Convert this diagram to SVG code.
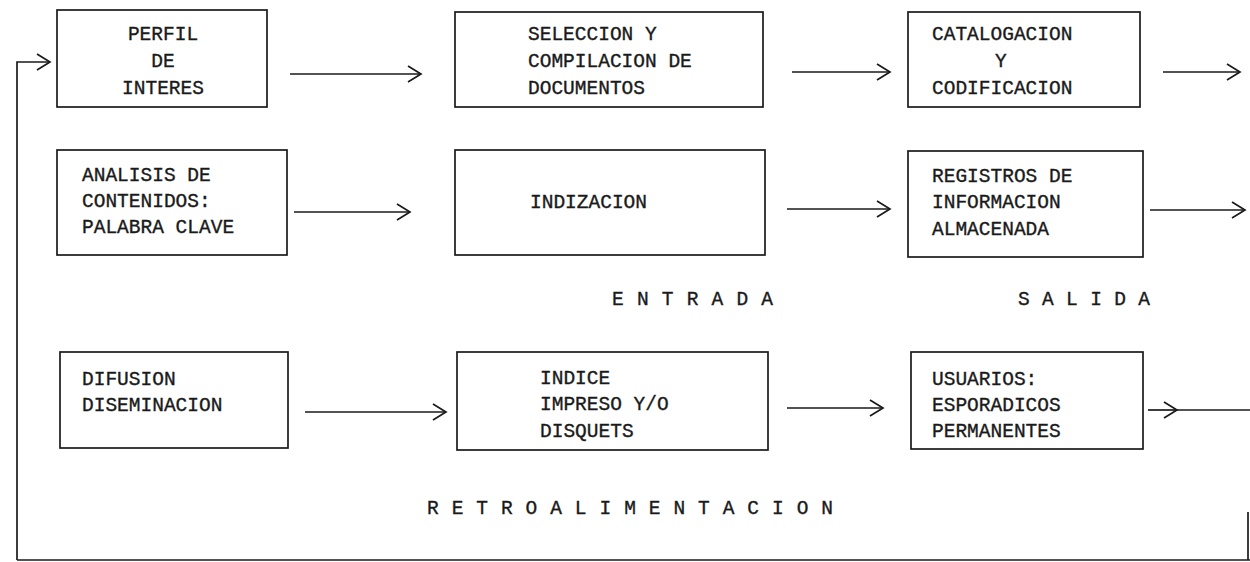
<svg xmlns="http://www.w3.org/2000/svg" width="1250" height="562" viewBox="0 0 1250 562">
  <style>
    .box { fill: none; stroke: #1a1a1a; stroke-width: 1.7; }
    .t { font-family: "Liberation Mono", "Courier New", monospace; font-size: 19.5px; fill: #1a1a1a; stroke: #1a1a1a; stroke-width: 0.35; }
    .c { fill: none; stroke: #1a1a1a; stroke-width: 1.7; }
  </style>
  <defs>
    <marker id="chev" markerUnits="userSpaceOnUse" markerWidth="18" markerHeight="22" refX="15" refY="10" orient="auto">
      <path d="M2,2 L15,10 L2,18" fill="none" stroke="#1a1a1a" stroke-width="1.7"/>
    </marker>
  </defs>
  <rect width="1250" height="562" fill="#ffffff"/>

  <g id="n1">
    <rect class="box" x="57" y="10" width="210" height="97"/>
    <text class="t" x="163" y="40" text-anchor="middle">PERFIL</text>
    <text class="t" x="163" y="67" text-anchor="middle">DE</text>
    <text class="t" x="163" y="94" text-anchor="middle">INTERES</text>
  </g>
  <g id="n2">
    <rect class="box" x="455" y="12" width="308" height="95"/>
    <text class="t" x="528" y="40">SELECCION Y</text>
    <text class="t" x="528" y="67">COMPILACION DE</text>
    <text class="t" x="528" y="94">DOCUMENTOS</text>
  </g>
  <g id="n3">
    <rect class="box" x="908" y="12" width="232" height="95"/>
    <text class="t" x="932" y="40">CATALOGACION</text>
    <text class="t" x="995" y="67">Y</text>
    <text class="t" x="932" y="94">CODIFICACION</text>
  </g>
  <g id="n4">
    <rect class="box" x="57" y="150" width="230" height="105"/>
    <text class="t" x="82" y="181">ANALISIS DE</text>
    <text class="t" x="82" y="207">CONTENIDOS:</text>
    <text class="t" x="82" y="233">PALABRA CLAVE</text>
  </g>
  <g id="n5">
    <rect class="box" x="455" y="150" width="310" height="105"/>
    <text class="t" x="530" y="208">INDIZACION</text>
  </g>
  <g id="n6">
    <rect class="box" x="908" y="151" width="235" height="106"/>
    <text class="t" x="932" y="182">REGISTROS DE</text>
    <text class="t" x="932" y="208">INFORMACION</text>
    <text class="t" x="932" y="235">ALMACENADA</text>
  </g>
  <g id="n7">
    <rect class="box" x="60" y="352" width="228" height="96"/>
    <text class="t" x="82" y="385">DIFUSION</text>
    <text class="t" x="82" y="411">DISEMINACION</text>
  </g>
  <g id="n8">
    <rect class="box" x="457" y="352" width="311" height="98"/>
    <text class="t" x="540" y="384">INDICE</text>
    <text class="t" x="540" y="410">IMPRESO Y/O</text>
    <text class="t" x="540" y="437">DISQUETS</text>
  </g>
  <g id="n9">
    <rect class="box" x="911" y="352" width="232" height="97"/>
    <text class="t" x="932" y="385">USUARIOS:</text>
    <text class="t" x="932" y="411">ESPORADICOS</text>
    <text class="t" x="932" y="437">PERMANENTES</text>
  </g>

  <g id="labels">
    <text class="t" x="612" y="305" textLength="161" lengthAdjust="spacing">E N T R A D A</text>
    <text class="t" x="1018" y="305" textLength="132" lengthAdjust="spacing">S A L I D A</text>
    <text class="t" x="427" y="514" textLength="406" lengthAdjust="spacing">R E T R O A L I M E N T A C I O N</text>
  </g>

  <g id="connectors">
    <line class="c" x1="290" y1="74" x2="421" y2="74" marker-end="url(#chev)"/>
    <line class="c" x1="792" y1="72" x2="890" y2="72" marker-end="url(#chev)"/>
    <line class="c" x1="1163" y1="72" x2="1240" y2="72" marker-end="url(#chev)"/>
    <line class="c" x1="294" y1="212" x2="410" y2="212" marker-end="url(#chev)"/>
    <line class="c" x1="787" y1="209" x2="890" y2="209" marker-end="url(#chev)"/>
    <line class="c" x1="1150" y1="210" x2="1245" y2="210" marker-end="url(#chev)"/>
    <line class="c" x1="305" y1="412" x2="446" y2="412" marker-end="url(#chev)"/>
    <line class="c" x1="787" y1="408" x2="883" y2="408" marker-end="url(#chev)"/>
    <line class="c" x1="1148" y1="410" x2="1177" y2="410" marker-end="url(#chev)"/>
    <line class="c" x1="1177" y1="410" x2="1250" y2="410"/>
    <path class="c" d="M17,560 V62 H50" stroke-width="2" marker-end="url(#chev)"/>
    <line class="c" x1="17" y1="560" x2="1250" y2="560" stroke-width="2.4"/>
    <line class="c" x1="1248" y1="512" x2="1248" y2="560" stroke-width="2"/>
  </g>
</svg>
